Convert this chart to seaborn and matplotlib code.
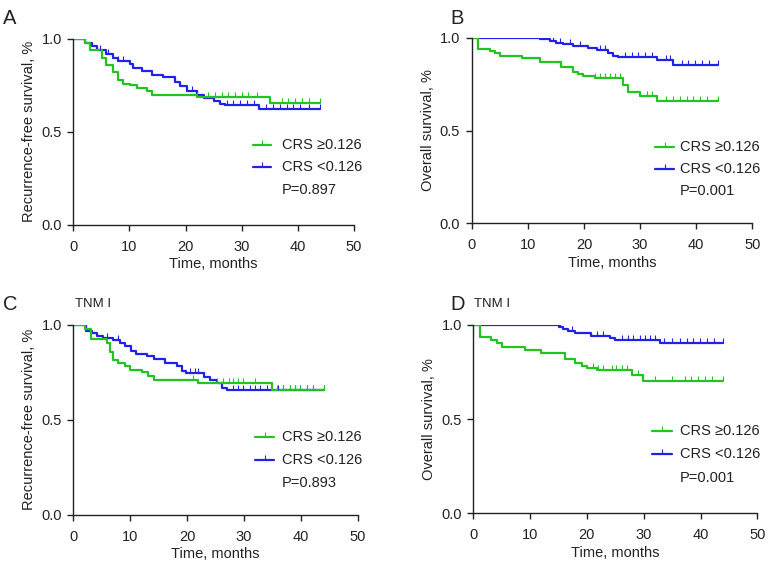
import numpy as np
import pandas as pd
import matplotlib
matplotlib.use("Agg")
import matplotlib.pyplot as plt
import seaborn as sns

# ---------------- data ----------------
# Panel A: recurrence-free survival, all patients
a_hi_t = [0, 2.1, 3.0, 5.1, 5.9, 7.1, 8.0, 8.9, 10.1, 11.3, 13.1, 14.0, 22.0, 35.0, 43.9]
a_hi_s = [1.0, 0.977, 0.94, 0.896, 0.86, 0.82, 0.78, 0.76, 0.75, 0.736, 0.72, 0.70, 0.686, 0.655, 0.655]
a_hi_c = [1.2, 22.0, 24.0, 25.2, 26.4, 27.6, 28.8, 30.0, 31.2, 32.7, 37.1, 38.3, 39.5, 40.7, 41.9, 43.9]
a_lo_t = [0, 2.1, 3.3, 4.2, 5.9, 7.1, 8.0, 10.1, 10.7, 12.2, 14.0, 16.0, 18.1, 19.0, 20.2, 22.0,
          23.2, 25.0, 26.1, 27.0, 33.0, 43.9]
a_lo_s = [1.0, 0.977, 0.962, 0.941, 0.918, 0.90, 0.882, 0.864, 0.843, 0.825, 0.807, 0.793, 0.771,
          0.745, 0.721, 0.70, 0.682, 0.668, 0.65, 0.643, 0.623, 0.623]
a_lo_c = [4.8, 6.2, 8.0, 8.9, 21.1, 22.0, 27.3, 28.5, 29.7, 30.9, 32.1, 34.4, 35.6, 36.8, 38.0,
          39.2, 40.4, 41.9, 43.9]

# Panel B: overall survival, all patients
b_hi_t = [0, 1.1, 3.3, 4.2, 5.1, 8.9, 12.2, 16.0, 18.1, 19.0, 19.9, 22.0, 27.0, 27.9, 30.0, 33.0, 43.9]
b_hi_s = [1.0, 0.939, 0.928, 0.915, 0.903, 0.892, 0.867, 0.84, 0.816, 0.806, 0.795, 0.784, 0.745,
          0.709, 0.687, 0.66, 0.66]
b_hi_c = [22.0, 22.9, 23.8, 24.6, 25.5, 26.4, 31.2, 32.1, 34.7, 35.9, 37.1, 38.3, 39.5, 40.7, 41.9, 43.9]
b_lo_t = [0, 12.2, 14.0, 15.1, 16.3, 18.1, 20.8, 22.3, 24.3, 25.2, 26.1, 33.0, 35.9, 43.9]
b_lo_s = [1.0, 0.991, 0.982, 0.973, 0.964, 0.955, 0.942, 0.933, 0.915, 0.903, 0.894, 0.88, 0.853, 0.853]
b_lo_c = [11.3, 14.5, 15.7, 17.5, 19.3, 22.9, 23.8, 27.3, 28.5, 29.7, 30.9, 32.1, 34.7, 35.3, 37.4,
          38.6, 39.8, 41.0, 42.2, 43.9]

# Panel C: recurrence-free survival, TNM I
c_hi_t = [0, 2.05, 3.05, 5.9, 6.4, 7.0, 7.9, 9.1, 10.0, 12.0, 13.2, 14.1, 22.0, 34.9, 44.0]
c_hi_s = [1.0, 0.977, 0.926, 0.903, 0.859, 0.815, 0.80, 0.783, 0.765, 0.753, 0.73, 0.71, 0.694, 0.655, 0.655]
c_hi_c = [1.2, 21.1, 25.2, 26.4, 27.3, 28.1, 29.0, 29.9, 32.0, 35.8, 36.9, 38.1, 39.0, 39.9, 41.0, 42.2, 44.0]
c_lo_t = [0, 2.3, 3.2, 4.1, 5.3, 7.0, 8.2, 9.1, 10.1, 11.1, 13.0, 14.1, 16.1, 18.2, 19.1, 19.9,
          22.9, 24.0, 25.2, 26.1, 27.0, 44.0]
c_lo_s = [1.0, 0.97, 0.956, 0.94, 0.93, 0.92, 0.906, 0.889, 0.864, 0.846, 0.836, 0.82, 0.80, 0.784,
          0.76, 0.747, 0.726, 0.708, 0.694, 0.668, 0.655, 0.655]
c_lo_c = [5.9, 7.9, 20.5, 21.4, 22.0, 22.9, 28.1, 29.0, 29.9, 31.1, 32.0, 32.8, 34.0, 36.0, 36.9,
          38.1, 39.0, 39.9, 41.0, 42.2, 44.0]

# Panel D: overall survival, TNM I
d_hi_t = [0, 1.1, 3.05, 4.1, 5.0, 9.1, 12.0, 16.1, 17.9, 19.1, 20.0, 21.7, 27.9, 29.9, 44.0]
d_hi_s = [1.0, 0.935, 0.92, 0.906, 0.885, 0.867, 0.853, 0.818, 0.80, 0.784, 0.774, 0.76, 0.735, 0.703, 0.703]
d_hi_c = [21.1, 22.0, 22.9, 24.4, 25.2, 26.1, 27.0, 29.0, 32.0, 34.9, 37.3, 38.4, 39.6, 40.8, 42.0, 44.0]
d_lo_t = [0, 15.0, 15.8, 16.7, 17.9, 20.8, 24.1, 24.9, 32.9, 44.0]
d_lo_s = [1.0, 0.991, 0.979, 0.968, 0.956, 0.942, 0.929, 0.92, 0.903, 0.903]
d_lo_c = [12.0, 15.3, 17.3, 21.7, 22.9, 26.1, 27.3, 28.2, 29.3, 30.2, 31.1, 32.0, 33.5, 34.9, 36.4,
          37.6, 38.7, 39.9, 41.1, 42.3, 44.0]

group_labels = ["CRS \u22650.126", "CRS <0.126"]
p_values = ["P=0.897", "P=0.001", "P=0.893", "P=0.001"]
panel_letters = ["A", "B", "C", "D"]
y_labels = ["Recurrence-free survival, %", "Overall survival, %",
            "Recurrence-free survival, %", "Overall survival, %"]
x_label = "Time, months"
subtitles = ["", "", "TNM I", "TNM I"]
x_ticks = [0, 10, 20, 30, 40, 50]
y_ticks = [0.0, 0.5, 1.0]
y_tick_labels = ["0.0", "0.5", "1.0"]

GREEN = "#22c322"
BLUE = "#2222e6"
FS = 10.5

sns.set_theme(style="ticks")
plt.rcParams["font.family"] = ["Liberation Sans", "DejaVu Sans"]
plt.rcParams["axes.edgecolor"] = "#222222"
plt.rcParams["xtick.color"] = "#222222"
plt.rcParams["ytick.color"] = "#222222"
plt.rcParams["text.color"] = "#222222"
plt.rcParams["axes.labelcolor"] = "#222222"

W, H = 771, 564
fig = plt.figure(figsize=(W / 100, H / 100), dpi=100)

# axes rects in pixels: (left, top, right, bottom)
rects_px = [(73.3, 39.0, 354.0, 224.7),
            (471.7, 37.7, 752.3, 223.3),
            (73.3, 325.0, 357.7, 514.7),
            (473.3, 325.0, 757.3, 513.3)]

# legend layout per panel (axes fractions): handle x0, x1, text x, row ys (2 groups + p)
leg_layout = [
    (0.640, 0.705, 0.742, [0.4285, 0.3086, 0.1866]),
    (0.655, 0.720, 0.742, [0.412, 0.294, 0.176]),
    (0.640, 0.705, 0.733, [0.410, 0.288, 0.166]),
    (0.630, 0.700, 0.727, [0.437, 0.313, 0.186]),
]

panels = [
    (a_hi_t, a_hi_s, a_hi_c, a_lo_t, a_lo_s, a_lo_c),
    (b_hi_t, b_hi_s, b_hi_c, b_lo_t, b_lo_s, b_lo_c),
    (c_hi_t, c_hi_s, c_hi_c, c_lo_t, c_lo_s, c_lo_c),
    (d_hi_t, d_hi_s, d_hi_c, d_lo_t, d_lo_s, d_lo_c),
]


def censor_y(t, s, c):
    t = np.asarray(t)
    s = np.asarray(s)
    idx = np.searchsorted(t, np.asarray(c), side="right") - 1
    return s[idx]


for i, (ht, hs, hc, lt, ls_, lc) in enumerate(panels):
    l, t, r, b = rects_px[i]
    ax = fig.add_axes([l / W, 1 - b / H, (r - l) / W, (b - t) / H])

    df_lo = pd.DataFrame({"time": lt, "surv": ls_})
    df_hi = pd.DataFrame({"time": ht, "surv": hs})
    sns.lineplot(data=df_lo, x="time", y="surv", ax=ax, color=BLUE, lw=1.6,
                 drawstyle="steps-post", estimator=None, sort=False)
    sns.lineplot(data=df_hi, x="time", y="surv", ax=ax, color=GREEN, lw=1.6,
                 drawstyle="steps-post", estimator=None, sort=False)
    ax.plot(lc, censor_y(lt, ls_, lc), ls="none", marker=2, color=BLUE,
            markersize=3.4, markeredgewidth=0.8)
    ax.plot(hc, censor_y(ht, hs, hc), ls="none", marker=2, color=GREEN,
            markersize=3.4, markeredgewidth=0.8)

    ax.set_xlim(0, 50)
    ax.set_ylim(0, 1.0)
    ax.set_xticks(x_ticks)
    ax.set_yticks(y_ticks)
    ax.set_yticklabels(y_tick_labels)
    ax.tick_params(axis="both", direction="out", length=4.3, width=1, labelsize=FS)
    ax.tick_params(axis="x", pad=6.5)
    ax.tick_params(axis="y", pad=4)
    ax.set_xlabel(x_label, fontsize=FS, labelpad=2.5)
    ax.set_ylabel(y_labels[i], fontsize=FS, labelpad=3.5)
    sns.despine(ax=ax)
    for sp in ("left", "bottom"):
        ax.spines[sp].set_linewidth(1.0)

    # legend (manual, in axes fractions)
    hx0, hx1, tx, rows = leg_layout[i]
    for col, lab, y in zip([GREEN, BLUE], group_labels, rows[:2]):
        ax.plot([hx0, hx1], [y, y], transform=ax.transAxes, color=col, lw=1.6, clip_on=False)
        ax.plot([(hx0 + hx1) / 2], [y], transform=ax.transAxes, color=col, marker=2,
                markersize=3.4, markeredgewidth=0.8, clip_on=False, ls="none")
        ax.text(tx, y, lab, transform=ax.transAxes, fontsize=FS, va="center", ha="left")
    ax.text(tx, rows[2], p_values[i], transform=ax.transAxes, fontsize=FS, va="center", ha="left")

# panel letters and subtitles (pixel positions)
letter_pos = [(3, 18.5), (450, 18.5), (3, 304.5), (450, 304.5)]
for (px, py), letter in zip(letter_pos, panel_letters):
    fig.text(px / W, 1 - py / H, letter, fontsize=14.5, va="center", ha="left")
sub_pos = [None, None, (75, 304), (474, 304)]
for pos, sub in zip(sub_pos, subtitles):
    if pos is not None and sub:
        fig.text(pos[0] / W, 1 - pos[1] / H, sub, fontsize=9.5, va="center", ha="left")

fig.savefig("out.png", dpi=100, facecolor="white")
